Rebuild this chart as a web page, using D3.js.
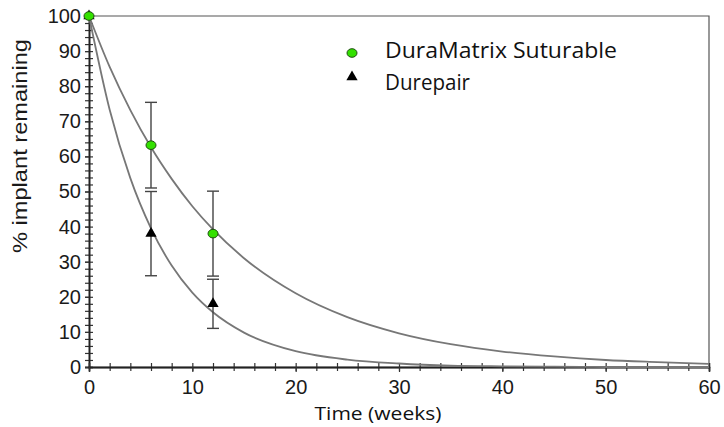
<html>
<head>
<script src="https://cdnjs.cloudflare.com/ajax/libs/d3/7.8.5/d3.min.js"></script>
<style>
  body { margin: 0; background: #fff; }
  text { font-family: "Liberation Sans", Arial, sans-serif; }
</style>
</head>
<body>
<svg id="chart" width="724" height="427"></svg>
<script>
// measured points (weeks, % remaining, +/- error)
var weeks = [0, 6, 12];
var duraMatrix = [100, 63.2, 38];
var duraMatrixErr = [0, 12.2, 12.1];
var durepair = [100, 38, 18];
var durepairErr = [0, 12, 7];

// fitted decay curves
var curveWeeks = [0, 2, 4, 6, 8, 10, 12, 15, 20, 25, 30, 35, 40, 45, 50, 55, 60];
var duraMatrixFit = [100, 85.5, 73.2, 62.6, 53.6, 45.8, 39.2, 31.0, 21.0, 14.2, 9.6, 6.5, 4.4, 3.0, 2.0, 1.4, 0.9];
var durepairFit = [100, 73.3, 53.8, 39.5, 28.9, 21.2, 15.6, 9.8, 4.5, 2.1, 1.0, 0.4, 0.2, 0.1, 0, 0, 0];

var xTicks = [0, 10, 20, 30, 40, 50, 60];
var yTicks = [0, 10, 20, 30, 40, 50, 60, 70, 80, 90, 100];
var legendNames = ["DuraMatrix Suturable", "Durepair"];

var svg = d3.select("#chart");
var pLeft = 89, pRight = 709, pTop = 16, pBottom = 367;

var x = d3.scaleLinear().domain([0, 60]).range([pLeft, pRight]);
var y = d3.scaleLinear().domain([0, 100]).range([pBottom, pTop]);

var minorX = d3.range(0, 61, 2);
var minorY = d3.range(0, 101, 2);

// frame (top + right)
svg.append("path")
  .attr("d", "M" + pLeft + "," + pTop + "H" + pRight + "V" + pBottom)
  .attr("fill", "none").attr("stroke", "#555").attr("stroke-width", 1.2);

// y axis: crossing ticks every 2, labels every 10
var yL = svg.append("g").attr("transform", "translate(" + pLeft + ",0)")
  .call(d3.axisLeft(y).tickValues(minorY).tickSize(4).tickFormat(""));
var yR = svg.append("g").attr("transform", "translate(" + pLeft + ",0)")
  .call(d3.axisRight(y).tickValues(minorY).tickSize(4).tickFormat(""));
var yLab = svg.append("g").attr("transform", "translate(" + pLeft + ",0)")
  .call(d3.axisLeft(y).tickValues(yTicks).tickSize(4).tickPadding(4).tickFormat(d3.format("d")));

// x axis
var xB = svg.append("g").attr("transform", "translate(0," + pBottom + ")")
  .call(d3.axisBottom(x).tickValues(minorX).tickSize(4).tickFormat(""));
var xT = svg.append("g").attr("transform", "translate(0," + pBottom + ")")
  .call(d3.axisTop(x).tickValues(minorX).tickSize(4).tickFormat(""));
var xLab = svg.append("g").attr("transform", "translate(0," + pBottom + ")")
  .call(d3.axisBottom(x).tickValues(xTicks).tickSize(5).tickPadding(8).tickFormat(d3.format("d")));

[yL, yR, yLab, xB, xT, xLab].forEach(function(g) {
  g.attr("font-family", "'Liberation Sans', Arial, sans-serif");
  g.selectAll("line").attr("stroke", "#333").attr("stroke-width", 1.2);
  g.select(".domain").attr("stroke", "#222").attr("stroke-width", 1.4);
  g.selectAll("text").attr("font-size", 20).attr("fill", "#1a1a1a");
});

// axis titles
svg.append("text")
  .attr("transform", "translate(27,146) rotate(-90)")
  .attr("text-anchor", "middle").attr("font-size", 21).attr("fill", "#1a1a1a")
  .attr("textLength", 214).attr("lengthAdjust", "spacingAndGlyphs")
  .text("% implant remaining");

svg.append("text")
  .attr("x", 378).attr("y", 420)
  .attr("text-anchor", "middle").attr("font-size", 19).attr("fill", "#111")
  .style("font-family", "'Open Sans', sans-serif")
  .attr("textLength", 127).attr("lengthAdjust", "spacingAndGlyphs")
  .text("Time (weeks)");

// fitted curves
var line = d3.line()
  .x(function(d) { return x(d[0]); })
  .y(function(d) { return y(d[1]); })
  .curve(d3.curveMonotoneX);

[duraMatrixFit, durepairFit].forEach(function(vals) {
  svg.append("path")
    .datum(curveWeeks.map(function(w, i) { return [w, vals[i]]; }))
    .attr("d", line)
    .attr("fill", "none").attr("stroke", "#777").attr("stroke-width", 1.8);
});

// error bars
function errorBars(vals, errs) {
  weeks.forEach(function(w, i) {
    if (!errs[i]) return;
    var cx = x(w), y1 = y(vals[i] + errs[i]), y2 = y(vals[i] - errs[i]);
    var g = svg.append("g").attr("stroke", "#444").attr("stroke-width", 1.4);
    g.append("line").attr("x1", cx).attr("x2", cx).attr("y1", y1).attr("y2", y2);
    g.append("line").attr("x1", cx - 6).attr("x2", cx + 6).attr("y1", y1).attr("y2", y1);
    g.append("line").attr("x1", cx - 6).attr("x2", cx + 6).attr("y1", y2).attr("y2", y2);
  });
}
errorBars(duraMatrix, duraMatrixErr);
errorBars(durepair, durepairErr);

var tri = d3.symbol().type(d3.symbolTriangle).size(55);

// markers
svg.selectAll("path.tri").data(weeks).enter().append("path")
  .attr("class", "tri")
  .attr("d", tri)
  .attr("transform", function(d, i) { return "translate(" + x(d) + "," + y(durepair[i]) + ")"; })
  .attr("fill", "#000");

svg.selectAll("ellipse.dm").data(weeks).enter().append("ellipse")
  .attr("class", "dm")
  .attr("cx", function(d) { return x(d); })
  .attr("cy", function(d, i) { return y(duraMatrix[i]); })
  .attr("rx", 5).attr("ry", 4.3)
  .attr("fill", "#33e000").attr("stroke", "#1f4f10").attr("stroke-width", 1);

// legend
var lg = svg.append("g");
lg.append("ellipse").attr("cx", 352).attr("cy", 53).attr("rx", 5).attr("ry", 4.3)
  .attr("fill", "#33e000").attr("stroke", "#1f4f10").attr("stroke-width", 1);
lg.append("path").attr("d", tri).attr("transform", "translate(352,77)").attr("fill", "#000");
lg.selectAll("text").data(legendNames).enter().append("text")
  .attr("x", 385).attr("y", function(d, i) { return 58 + i * 32; })
  .attr("font-size", 21).attr("fill", "#111")
  .style("font-family", "'Open Sans', sans-serif")
  .attr("textLength", function(d, i) { return i === 0 ? 232 : 85; })
  .attr("lengthAdjust", "spacingAndGlyphs")
  .text(function(d) { return d; });
</script>
</body>
</html>
